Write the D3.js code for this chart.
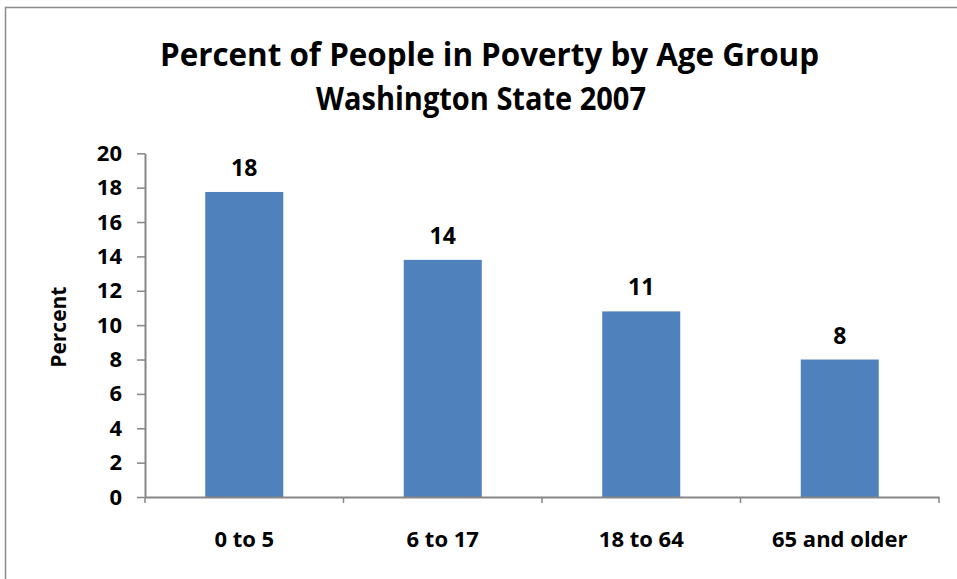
<!DOCTYPE html>
<html>
<head>
<meta charset="utf-8">
<script src="https://cdn.jsdelivr.net/npm/d3@7"></script>
<style>
  html, body { margin: 0; padding: 0; background: #fff; }
  svg { display: block; }
  text { font-family: "Open Sans", "DejaVu Sans", sans-serif; font-weight: 700; fill: #000; }
</style>
</head>
<body>
<svg id="chart" width="957" height="579"></svg>
<script>
// ---- Data ----
const categories = ["0 to 5", "6 to 17", "18 to 64", "65 and older"];
const values = [17.75, 13.8, 10.8, 8.0];
const valueLabels = ["18", "14", "11", "8"];
const yTicks = [0, 2, 4, 6, 8, 10, 12, 14, 16, 18, 20];
const titleLines = ["Percent of People in Poverty by Age Group", "Washington State 2007"];
const yAxisTitle = "Percent";

// ---- Layout ----
const W = 957, H = 579;
const plot = { left: 145, right: 939, top: 153.3, bottom: 497 };
const axisColor = "#868686";
const barColor = "#4F81BD";

const svg = d3.select("#chart");

// Outer border
svg.append("rect")
  .attr("x", 5.5).attr("y", 7.5)
  .attr("width", W + 10).attr("height", H + 10)
  .attr("fill", "none").attr("stroke", "#8c8c8c").attr("stroke-width", 1.5);

// Scales
const x = d3.scaleBand().domain(categories).range([plot.left, plot.right]).padding(0);
const y = d3.scaleLinear().domain([0, 20]).range([plot.bottom, plot.top]);
const barFrac = 0.393;
const bw = x.bandwidth() * barFrac;

// Title
const title = svg.append("g");
title.append("text")
  .attr("x", 489.5).attr("y", 66)
  .attr("text-anchor", "middle")
  .attr("font-size", 33)
  .attr("textLength", 659).attr("lengthAdjust", "spacingAndGlyphs")
  .text(titleLines[0]);
title.append("text")
  .attr("x", 481).attr("y", 110)
  .attr("text-anchor", "middle")
  .attr("font-size", 33)
  .attr("textLength", 330).attr("lengthAdjust", "spacingAndGlyphs")
  .text(titleLines[1]);

// Bars
svg.append("g").selectAll("rect")
  .data(values)
  .join("rect")
  .attr("x", (d, i) => x(categories[i]) + (x.bandwidth() - bw) / 2)
  .attr("y", d => y(d))
  .attr("width", bw)
  .attr("height", d => y(0) - y(d))
  .attr("fill", barColor);

// Value labels
svg.append("g").selectAll("text")
  .data(values)
  .join("text")
  .attr("x", (d, i) => x(categories[i]) + x.bandwidth() / 2)
  .attr("y", d => y(d) - 16)
  .attr("text-anchor", "middle")
  .attr("font-size", 23)
  .text((d, i) => valueLabels[i]);

// Y axis
const yAxis = svg.append("g")
  .attr("transform", `translate(${plot.left},0)`)
  .call(d3.axisLeft(y).tickValues(yTicks).tickSize(8).tickPadding(15).tickSizeOuter(0));
yAxis.select(".domain").attr("stroke", axisColor).attr("stroke-width", 2);
yAxis.selectAll(".tick line").attr("stroke", axisColor).attr("stroke-width", 1.5);
yAxis.selectAll(".tick text")
  .attr("font-size", 22)
  .attr("font-family", "'Open Sans', sans-serif")
  .attr("font-weight", 700)
  .attr("fill", "#000");

// X axis (labels)
const xAxis = svg.append("g")
  .attr("transform", `translate(0,${plot.bottom})`)
  .call(d3.axisBottom(x).tickSize(0).tickPadding(34).tickSizeOuter(0));
xAxis.select(".domain").attr("stroke", axisColor).attr("stroke-width", 2);
xAxis.selectAll(".tick text")
  .attr("font-size", 22)
  .attr("font-family", "'Open Sans', sans-serif")
  .attr("font-weight", 700)
  .attr("fill", "#000");

// X axis boundary ticks (between categories)
const boundaries = categories.map(c => x(c)).concat([x(categories[categories.length - 1]) + x.step()]);
svg.append("g").selectAll("line")
  .data(boundaries)
  .join("line")
  .attr("x1", d => d).attr("x2", d => d)
  .attr("y1", plot.bottom).attr("y2", plot.bottom + 6)
  .attr("stroke", axisColor).attr("stroke-width", 1.5);

// Y axis title
svg.append("text")
  .attr("transform", `translate(66,${(plot.top + plot.bottom) / 2 + 2}) rotate(-90)`)
  .attr("text-anchor", "middle")
  .attr("font-size", 21)
  .text(yAxisTitle);
</script>
</body>
</html>
